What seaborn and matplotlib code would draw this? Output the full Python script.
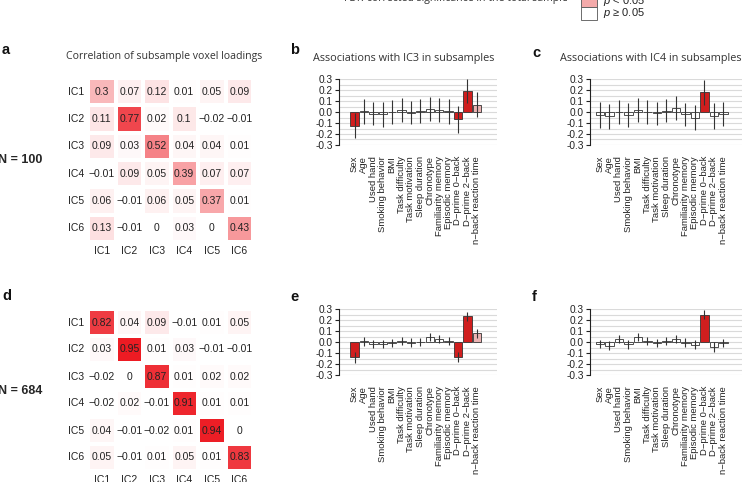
import numpy as np
import pandas as pd
import seaborn as sns
import matplotlib
matplotlib.use("Agg")
import matplotlib.pyplot as plt
from matplotlib.colors import LinearSegmentedColormap
from matplotlib.patches import Rectangle
from matplotlib.ticker import MultipleLocator

# ---------------- data ----------------
ics = ["IC1", "IC2", "IC3", "IC4", "IC5", "IC6"]

corr_n100 = [
    [0.30, 0.07, 0.12, 0.01, 0.05, 0.09],
    [0.11, 0.77, 0.02, 0.10, -0.02, -0.01],
    [0.09, 0.03, 0.52, 0.04, 0.04, 0.01],
    [-0.01, 0.09, 0.05, 0.39, 0.07, 0.07],
    [0.06, -0.01, 0.06, 0.05, 0.37, 0.01],
    [0.13, -0.01, 0.00, 0.03, 0.00, 0.43],
]
corr_n684 = [
    [0.82, 0.04, 0.09, -0.01, 0.01, 0.05],
    [0.03, 0.95, 0.01, 0.03, -0.01, -0.01],
    [-0.02, 0.00, 0.87, 0.01, 0.02, 0.02],
    [-0.02, 0.02, -0.01, 0.91, 0.01, 0.01],
    [0.04, -0.01, -0.02, 0.01, 0.94, 0.00],
    [0.05, -0.01, 0.01, 0.05, 0.01, 0.83],
]

variables = ["Sex", "Age", "Used hand", "Smoking behavior", "BMI",
             "Task difficulty", "Task motivation", "Sleep duration",
             "Chronotype", "Familiarity memory", "Episodic memory",
             "D\u2212prime 0\u2212back", "D\u2212prime 2\u2212back",
             "n\u2212back reaction time"]

# significance in the total sample (FDR corrected)
sig_ic3 = ["p<0.01", "ns", "ns", "ns", "ns", "ns", "ns", "ns", "ns", "ns", "ns",
           "p<0.01", "p<0.01", "p<0.05"]
sig_ic4 = ["ns", "ns", "ns", "ns", "ns", "ns", "ns", "ns", "ns", "ns", "ns",
           "p<0.01", "ns", "ns"]

ic3_n100_mean = [-0.125, 0.008, -0.015, -0.02, -0.003, 0.02, -0.008, 0.01, 0.03, 0.02, 0.005, -0.068, 0.19, 0.065]
ic3_n100_err = [0.115, 0.113, 0.105, 0.115, 0.11, 0.11, 0.105, 0.11, 0.11, 0.11, 0.11, 0.122, 0.11, 0.113]
ic4_n100_mean = [-0.025, -0.04, 0.0, -0.03, 0.02, 0.0, -0.012, 0.013, 0.033, -0.022, -0.05, 0.18, -0.04, -0.015]
ic4_n100_err = [0.117, 0.11, 0.105, 0.11, 0.11, 0.105, 0.105, 0.108, 0.108, 0.107, 0.11, 0.115, 0.118, 0.11]
ic3_n684_mean = [-0.14, 0.005, -0.02, -0.02, -0.01, 0.012, -0.005, 0.003, 0.048, 0.03, 0.013, -0.14, 0.235, 0.08]
ic3_n684_err = [0.048, 0.037, 0.038, 0.038, 0.038, 0.038, 0.037, 0.035, 0.038, 0.037, 0.037, 0.045, 0.04, 0.04]
ic4_n684_mean = [-0.02, -0.033, 0.03, -0.02, 0.045, 0.006, -0.01, 0.012, 0.03, -0.005, -0.025, 0.25, -0.045, -0.012]
ic4_n684_err = [0.038, 0.043, 0.038, 0.04, 0.04, 0.036, 0.037, 0.035, 0.038, 0.038, 0.042, 0.04, 0.045, 0.035]

sig_colors = {"p<0.01": "#EE0000", "p<0.05": "#F4AAAA", "ns": "#FFFFFF"}

# ---------------- style ----------------
sns.set_style("white")
plt.rcParams["font.family"] = ["Liberation Sans", "DejaVu Sans"]
plt.rcParams["mathtext.fontset"] = "custom"
plt.rcParams["mathtext.it"] = "Liberation Sans:italic"
plt.rcParams["mathtext.rm"] = "Liberation Sans"
TITLE_FONT = ["Open Sans", "DejaVu Sans"]

W, H = 746, 482
fig = plt.figure(figsize=(W / 100, H / 100), dpi=100)


def fx(px):
    return px / W


def fy(py):
    return 1 - py / H


def axes_px(x0, y0, x1, y1):
    return fig.add_axes([fx(x0), fy(y1), fx(x1 - x0), (y1 - y0) / H])


cmap = LinearSegmentedColormap.from_list("wr", ["#FFFFFF", "#EC1018"])


def fmt(v):
    return f"{v:g}".replace("-", "\u2212")


def heat_panel(ax, mat):
    annot = [[fmt(v) for v in row] for row in mat]
    sns.heatmap(np.array(mat), vmin=0, vmax=1, cmap=cmap, annot=annot, fmt="",
                cbar=False, linewidths=1.5, linecolor="white",
                xticklabels=ics, yticklabels=ics, ax=ax,
                annot_kws={"size": 7.5, "color": "#222222"})
    ax.tick_params(length=0, labelsize=7.5, pad=3, colors="#222222")
    ax.set_yticklabels(ics, rotation=0)
    ax.set_xticklabels(ics, rotation=0)
    ax.set_xlabel("")
    ax.set_ylabel("")


def bar_panel(ax, means, errs, sig, xlim):
    df = pd.DataFrame({"variable": variables, "r": means, "sig": sig})
    ax.set_axisbelow(True)
    sns.barplot(data=df, x="variable", y="r", hue="sig", palette=sig_colors,
                dodge=False, width=0.9, edgecolor="#333333", linewidth=0.6,
                legend=False, ax=ax, zorder=2)
    pos = np.arange(len(variables))
    ax.errorbar(pos, means, yerr=errs, fmt="none", ecolor="#333333",
                elinewidth=0.8, capsize=0, zorder=3)
    ax.set_ylim(-0.3, 0.3)
    ax.set_xlim(*xlim)
    ticks = np.round(np.arange(-0.3, 0.31, 0.1), 2)
    ax.yaxis.set_minor_locator(MultipleLocator(0.05))
    ax.set_yticks(ticks)
    ax.set_yticklabels([f"{t:.1f}" for t in ticks])
    ax.grid(True, axis="y", which="both", color="#DADADA", linewidth=0.8)
    ax.grid(False, axis="x")
    for s in ["top", "right", "bottom"]:
        ax.spines[s].set_visible(False)
    ax.spines["left"].set_color("#222222")
    ax.spines["left"].set_linewidth(0.8)
    ax.tick_params(axis="y", which="major", length=3, width=0.8, pad=1.5,
                   labelsize=7.3, direction="out", left=True, colors="#222222")
    ax.tick_params(axis="y", which="minor", length=0)
    ax.tick_params(axis="x", length=0, pad=8, labelsize=6.8, colors="#222222")
    ax.set_xticks(pos)
    ax.set_xticklabels(variables, rotation=90, ha="center", va="top")
    ax.set_xlabel("")
    ax.set_ylabel("")


# heatmaps
ax_a = axes_px(88, 78, 253, 242)
heat_panel(ax_a, corr_n100)
ax_d = axes_px(88, 309, 253, 471)
heat_panel(ax_d, corr_n684)

# bar panels
ax_b = axes_px(339, 79, 497, 145)
bar_panel(ax_b, ic3_n100_mean, ic3_n100_err, sig_ic3, (-1.65, 15.15))
ax_c = axes_px(590, 79, 742, 145)
bar_panel(ax_c, ic4_n100_mean, ic4_n100_err, sig_ic4, (-1.05, 14.95))
ax_e = axes_px(339, 309, 497, 375)
bar_panel(ax_e, ic3_n684_mean, ic3_n684_err, sig_ic3, (-1.65, 15.15))
ax_f = axes_px(590, 309, 742, 375)
bar_panel(ax_f, ic4_n684_mean, ic4_n684_err, sig_ic4, (-1.05, 14.95))

# titles
fig.text(fx(66), fy(57), "Correlation of subsample voxel loadings", family=TITLE_FONT,
         fontsize=7.6, color="#333333", va="center", ha="left")
fig.text(fx(313), fy(58), "Associations with IC3 in subsamples", family=TITLE_FONT,
         fontsize=7.8, color="#333333", va="center", ha="left")
fig.text(fx(560), fy(58), "Associations with IC4 in subsamples", family=TITLE_FONT,
         fontsize=7.8, color="#333333", va="center", ha="left")

# panel letters
for letter, x, y in [("a", 2, 50), ("b", 290, 50), ("c", 532, 53),
                     ("d", 2, 296), ("e", 290, 297), ("f", 532, 297)]:
    fig.text(fx(x), fy(y), letter, fontsize=10.5, fontweight="bold", va="center",
             ha="left", color="#111111")

# sample sizes
fig.text(fx(-2), fy(160), "N = 100", fontsize=9, fontweight="bold", va="center", ha="left")
fig.text(fx(-2), fy(391), "N = 684", fontsize=9, fontweight="bold", va="center", ha="left")

# significance legend (partly cut off at the top)
fig.text(fx(568), fy(-1.5), "FDR-corrected significance in the total sample",
         family=TITLE_FONT, fontsize=7.6, color="#333333", va="center", ha="right")
legend_items = [("p<0.01", "$p$ < 0.01"), ("p<0.05", "$p$ < 0.05"), ("ns", "$p$ \u2265 0.05")]
top = -19
for i, (key, lab) in enumerate(legend_items):
    y0 = top + i * 13
    fig.patches.append(Rectangle((fx(581), fy(y0 + 13)), fx(16), 13 / H,
                                 transform=fig.transFigure, facecolor=sig_colors[key],
                                 edgecolor="#555555", linewidth=0.6))
    fig.text(fx(603), fy(y0 + 6.5), lab, fontsize=8, va="center", ha="left", color="#222222")

fig.savefig("out.png", dpi=100)
